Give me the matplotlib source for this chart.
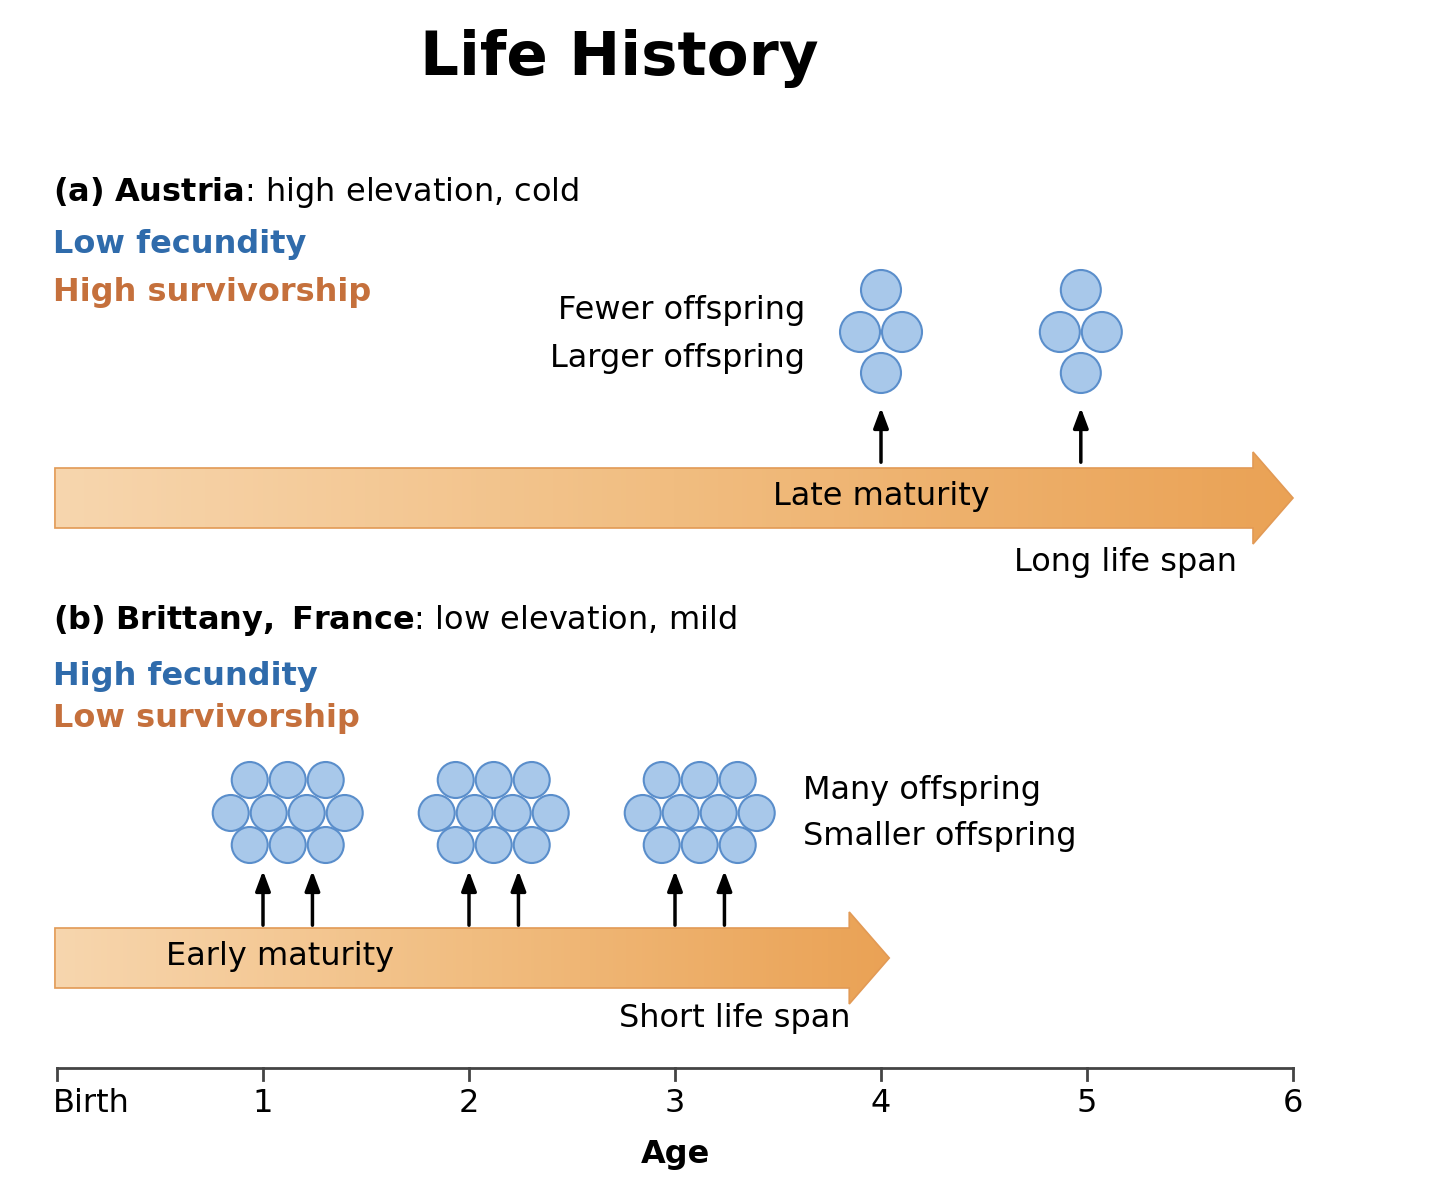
import matplotlib
matplotlib.use("Agg")
import matplotlib.pyplot as plt
import numpy as np
from matplotlib.patches import Polygon, Ellipse

# data (ages)
age_ticks = [0, 1, 2, 3, 4, 5, 6]
age_labels = ["Birth", "1", "2", "3", "4", "5", "6"]
austria_repro = [4.0, 4.97]
brittany_repro = [1.0, 1.24, 2.0, 2.24, 3.0, 3.24]
austria_clusters = [4.0, 4.97]
brittany_clusters = [1.12, 2.12, 3.12]
austria_end = 6.0
brittany_end = 4.04

PX = 206.0   # pixels per age unit
X0 = 57.0    # pixel of Birth
BLUE = "#2f6bab"
ORANGE = "#c5703c"
C_FILL = "#a8c8ea"
C_EDGE = "#5a8ecb"


def px(a):
    return a  # ages are data x


fig = plt.figure(figsize=(14.4, 11.86), dpi=100)
ax = fig.add_axes([0, 0, 1, 1])
ax.set_xlim(-X0 / PX, (1440 - X0) / PX)
ax.set_ylim(1186, 0)
ax.axis("off")

grad = np.linspace(0, 1, 256).reshape(1, -1)
from matplotlib.colors import LinearSegmentedColormap
cmap = LinearSegmentedColormap.from_list("o", ["#f7d6ae", "#f1bd80", "#eaa255"])


def big_arrow(x_end, y_top, y_bot):
    xs = -0.01
    head = 40 / PX
    yc = (y_top + y_bot) / 2
    hh = (y_bot - y_top) / 2 + 16
    verts = [(xs, y_top), (x_end - head, y_top), (x_end - head, yc - hh),
             (x_end, yc), (x_end - head, yc + hh), (x_end - head, y_bot), (xs, y_bot)]
    poly = Polygon(verts, closed=True, facecolor="none", edgecolor="#e29a55", lw=1.2, zorder=3)
    ax.add_patch(poly)
    im = ax.imshow(grad, cmap=cmap, aspect="auto", extent=(xs, x_end, yc + hh, yc - hh), zorder=2)
    im.set_clip_path(poly)


def circle(x, y, r=20):
    ax.add_patch(Ellipse((x, y), 2 * r / PX, 2 * r, facecolor=C_FILL, edgecolor=C_EDGE, lw=1.5, zorder=4))


def small_arrow(x, y0, y1):
    ax.annotate("", xy=(x, y1), xytext=(x, y0),
                arrowprops=dict(arrowstyle="-|>,head_width=0.45,head_length=1.2", color="black", lw=2.5), zorder=5)


ax.text(2.73, 58, "Life History", fontsize=44, fontweight="bold", ha="center", va="center")

# (a)
fs = 23
ax.text(-0.02, 193, r"$\bf{(a)\ Austria}$: high elevation, cold", fontsize=fs, va="center")
ax.text(-0.02, 245, "Low fecundity", fontsize=fs, color=BLUE, fontweight="bold", va="center")
ax.text(-0.02, 292, "High survivorship", fontsize=fs, color=ORANGE, fontweight="bold", va="center")
ax.text(3.63, 311, "Fewer offspring", fontsize=fs, ha="right", va="center")
ax.text(3.63, 359, "Larger offspring", fontsize=fs, ha="right", va="center")
big_arrow(austria_end, 468, 528)
ax.text(4.0, 496, "Late maturity", fontsize=fs, ha="center", va="center")
ax.text(5.73, 563, "Long life span", fontsize=fs, ha="right", va="center")
for c in austria_clusters:
    for dx, dy in [(0, 290), (-21, 332), (21, 332), (0, 373)]:
        circle(c + dx / PX, dy)
for a in austria_repro:
    small_arrow(a, 465, 405)

# (b)
ax.text(-0.02, 621, r"$\bf{(b)\ Brittany,\ France}$: low elevation, mild", fontsize=fs, va="center")
ax.text(-0.02, 676, "High fecundity", fontsize=fs, color=BLUE, fontweight="bold", va="center")
ax.text(-0.02, 718, "Low survivorship", fontsize=fs, color=ORANGE, fontweight="bold", va="center")
ax.text(3.62, 790, "Many offspring", fontsize=fs, va="center")
ax.text(3.62, 837, "Smaller offspring", fontsize=fs, va="center")
big_arrow(brittany_end, 928, 988)
ax.text(0.53, 957, "Early maturity", fontsize=fs, va="center")
ax.text(3.85, 1018, "Short life span", fontsize=fs, ha="right", va="center")
for c in brittany_clusters:
    pts = [(-38, 780), (0, 780), (38, 780), (-57, 813), (-19, 813), (19, 813), (57, 813),
           (-38, 845), (0, 845), (38, 845)]
    for dx, dy in pts:
        circle(c + dx / PX, dy, 18)
for a in brittany_repro:
    small_arrow(a, 928, 868)

# age axis
ax.plot([age_ticks[0], age_ticks[-1]], [1068, 1068], color="#444444", lw=2)
for t, lab in zip(age_ticks, age_labels):
    ax.plot([t, t], [1068, 1080], color="#444444", lw=2)
    ax.text(t if t else -0.02, 1104, lab, fontsize=fs, ha="center" if t else "left", va="center")
ax.text(3.0, 1154, "Age", fontsize=fs, fontweight="bold", ha="center", va="center")

fig.savefig("out.png", dpi=100)
